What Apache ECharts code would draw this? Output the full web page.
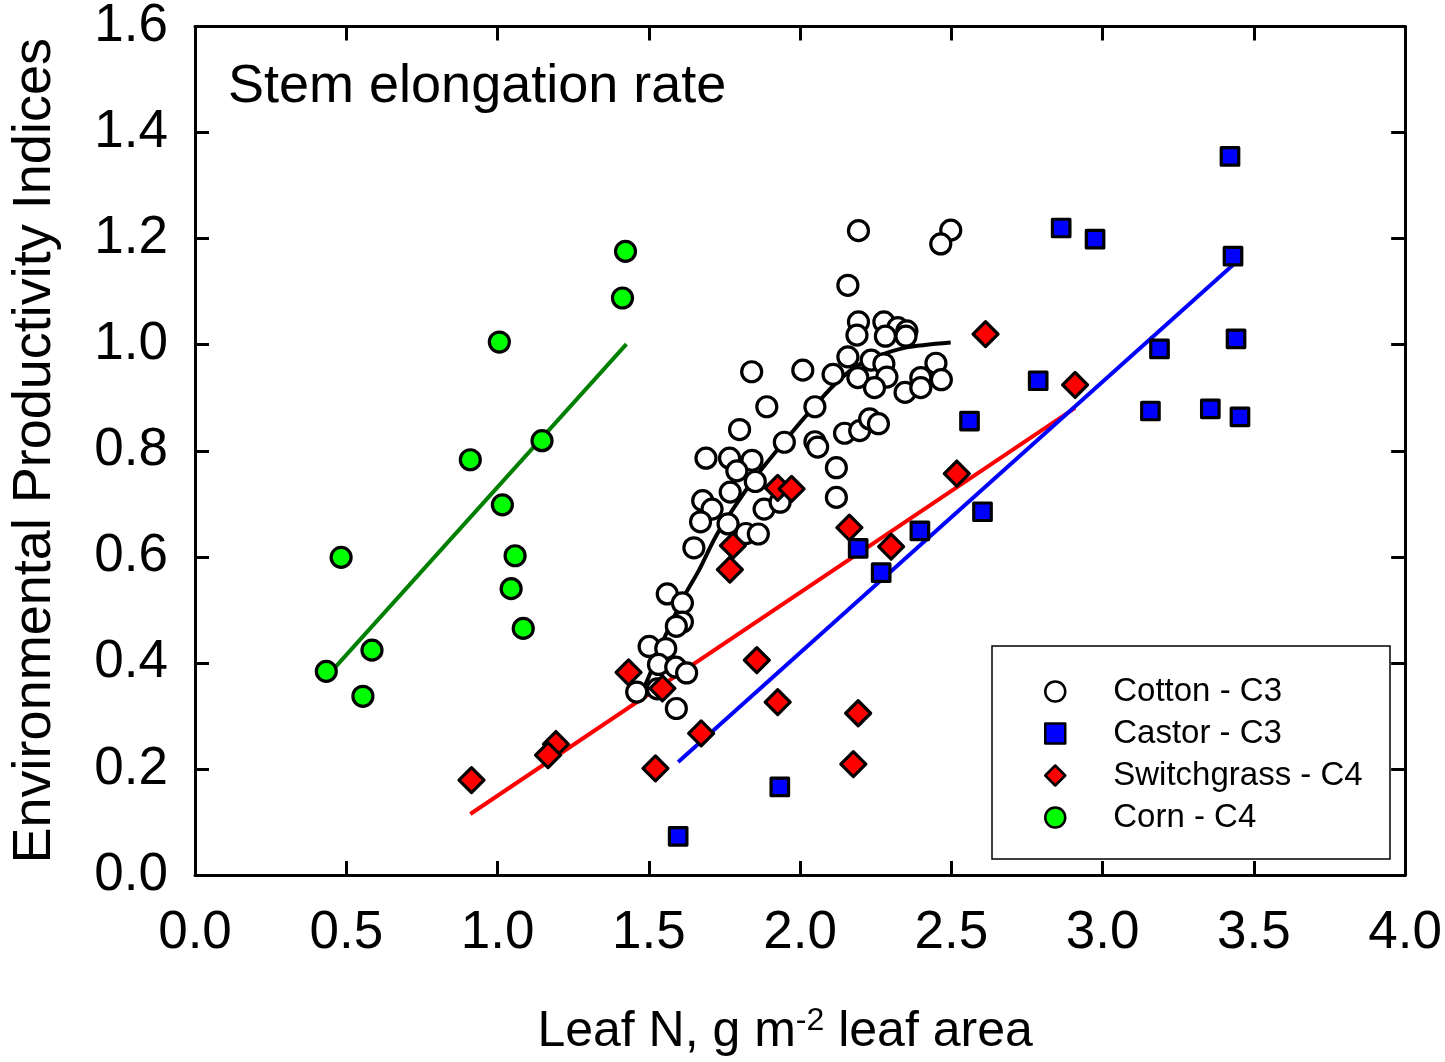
<!DOCTYPE html>
<html>
<head>
<meta charset="utf-8">
<script src="https://cdn.jsdelivr.net/npm/echarts@6/dist/echarts.min.js"></script>
<style>
html,body{margin:0;padding:0;background:#fff;}
#chart{width:1445px;height:1062px;}
</style>
</head>
<body>
<div id="chart"></div>
<script>
var xTicks = [0.0, 0.5, 1.0, 1.5, 2.0, 2.5, 3.0, 3.5, 4.0];
var yTicks = [0.0, 0.2, 0.4, 0.6, 0.8, 1.0, 1.2, 1.4, 1.6];

var cottonData = [[2.193,1.215],[2.498,1.216],[2.465,1.190],[2.158,1.112],[2.193,1.043],[2.277,1.043],[2.323,1.032],[2.353,1.026],[2.350,1.016],[2.188,1.018],[2.282,1.016],[2.158,0.977],[2.235,0.971],[2.277,0.964],[2.449,0.965],[1.840,0.949],[2.009,0.952],[2.109,0.944],[2.191,0.938],[2.287,0.939],[2.399,0.938],[2.467,0.934],[2.246,0.919],[2.347,0.910],[2.399,0.919],[1.890,0.883],[2.049,0.883],[1.800,0.840],[1.948,0.816],[2.049,0.817],[2.058,0.807],[2.147,0.833],[2.197,0.838],[2.230,0.860],[2.259,0.851],[2.120,0.768],[1.689,0.786],[1.767,0.786],[1.841,0.782],[1.791,0.762],[1.852,0.742],[1.769,0.722],[1.678,0.706],[1.709,0.690],[1.881,0.690],[1.934,0.703],[1.671,0.666],[1.762,0.662],[1.821,0.644],[1.862,0.643],[1.649,0.617],[2.120,0.712],[1.561,0.530],[1.611,0.513],[1.611,0.477],[1.591,0.469],[1.501,0.431],[1.556,0.427],[1.532,0.397],[1.589,0.392],[1.625,0.381],[1.460,0.345],[1.528,0.351],[1.591,0.314]];
var castorData = [[3.421,1.355],[2.863,1.220],[2.975,1.199],[3.431,1.167],[3.188,0.992],[3.441,1.011],[2.787,0.932],[3.158,0.875],[3.356,0.879],[3.454,0.864],[2.560,0.856],[2.603,0.685],[2.396,0.649],[2.192,0.616],[2.268,0.570],[1.933,0.166],[1.597,0.073]];
var switchgrassData = [[2.613,1.020],[2.909,0.924],[2.518,0.757],[1.926,0.730],[1.972,0.728],[2.163,0.655],[2.301,0.619],[1.778,0.621],[1.768,0.576],[1.433,0.382],[1.545,0.352],[1.857,0.405],[1.926,0.326],[2.192,0.305],[1.673,0.267],[1.193,0.247],[1.167,0.226],[0.914,0.179],[1.522,0.201],[2.176,0.209]];
var cornData = [[1.423,1.176],[1.413,1.088],[1.006,1.005],[1.147,0.819],[0.910,0.783],[1.016,0.698],[1.058,0.602],[0.483,0.599],[1.045,0.540],[1.085,0.465],[0.585,0.424],[0.434,0.384],[0.555,0.337]];

var cottonFit = [[1.465,0.345],[1.490,0.361],[1.534,0.424],[1.578,0.480],[1.621,0.530],[1.665,0.574],[1.720,0.637],[1.775,0.687],[1.852,0.750],[1.950,0.819],[2.049,0.885],[2.114,0.925],[2.180,0.957],[2.246,0.976],[2.345,0.994],[2.498,1.004]];
var castorFit = [[1.597,0.213],[3.438,1.154]];
var switchgrassFit = [[0.910,0.115],[2.909,0.881]];
var cornFit = [[0.434,0.373],[1.426,1.001]];

var seriesNames = ['Cotton - C3','Castor - C3','Switchgrass - C4','Corn - C4'];

var FONT = 'Liberation Sans, Arial, sans-serif';
var chart = echarts.init(document.getElementById('chart'), null, {renderer:'canvas'});

function fitLine(data, color, smooth){
  return {type:'line', data:data, showSymbol:false, symbol:'none', smooth:smooth?0.3:false,
    lineStyle:{color:color, width:4}, z:1, silent:true, legendHoverLink:false};
}
function scatter(name, data, symbol, size, color){
  return {type:'scatter', name:name, data:data, symbol:symbol, symbolSize:size,
    itemStyle:{color:color, borderColor:'#000', borderWidth:3.2, borderJoin:'round', opacity:1}, z:3};
}
function axisLine(){ return {show:true, onZero:false, lineStyle:{color:'#000', width:3}}; }
function axisTick(){ return {show:true, inside:true, length:14, lineStyle:{width:3,color:'#000'}}; }
var option = {
  backgroundColor:'#fff',
  animation:false,
  grid:{left:190, right:38, top:25, bottom:187, containLabel:false},
  xAxis:[
    {type:'value', min:0, max:4, interval:0.5, position:'bottom',
     axisLine:axisLine(), axisTick:axisTick(), splitLine:{show:false},
     axisLabel:{fontSize:53, color:'#000', fontFamily:FONT, margin:32, formatter:function(v){return v.toFixed(1);}},
     name:'Leaf N, g m{sup|-2} leaf area', nameLocation:'middle', nameGap:130,
     nameTextStyle:{fontSize:50, color:'#000', fontFamily:FONT, padding:[0,30,0,0],
       rich:{sup:{fontSize:32, verticalAlign:'top', padding:[0,0,22,0], fontFamily:FONT, color:'#000'}}}},
    {type:'value', min:0, max:4, interval:0.5, position:'top',
     axisLine:axisLine(), axisTick:axisTick(),
     axisLabel:{show:false}, splitLine:{show:false}}
  ],
  yAxis:[
    {type:'value', min:0, max:1.6, interval:0.2, position:'left',
     axisLine:axisLine(), axisTick:axisTick(), splitLine:{show:false},
     axisLabel:{fontSize:53, color:'#000', fontFamily:FONT, margin:27, formatter:function(v){return v.toFixed(1);}},
     name:'Environmental Productivity Indices', nameLocation:'middle', nameGap:133,
     nameTextStyle:{fontSize:54, color:'#000', fontFamily:FONT}},
    {type:'value', min:0, max:1.6, interval:0.2, position:'right',
     axisLine:axisLine(), axisTick:axisTick(),
     axisLabel:{show:false}, splitLine:{show:false}}
  ],
  legend:{
    data:seriesNames, orient:'vertical', left:1039, top:670,
    itemWidth:20, itemHeight:20, itemGap:9,
    itemStyle:{borderWidth:2.5},
    textStyle:{fontSize:33, color:'#000', fontFamily:FONT, padding:[0,0,0,43], lineHeight:20},
    selectedMode:false
  },
  graphic:[
    {type:'rect', shape:{x:992, y:646, width:398, height:213}, style:{fill:'none', stroke:'#000', lineWidth:1.5}, z:0},
    {type:'text', left:228, top:60, style:{text:'Stem elongation rate', fontSize:54, fontFamily:FONT, fill:'#000'}}
  ],
  series:[
    fitLine(cornFit,'#008000'),
    fitLine(switchgrassFit,'#FF0000'),
    fitLine(castorFit,'#0000FF'),
    fitLine(cottonFit,'#000000', true),
    scatter(seriesNames[0], cottonData, 'circle', 20, '#FFFFFF'),
    scatter(seriesNames[1], castorData, 'rect', 17.5, '#0000FF'),
    scatter(seriesNames[2], switchgrassData, 'diamond', 25, '#FF0000'),
    scatter(seriesNames[3], cornData, 'circle', 20, '#00FF00')
  ]
};
chart.setOption(option);
</script>
</body>
</html>
